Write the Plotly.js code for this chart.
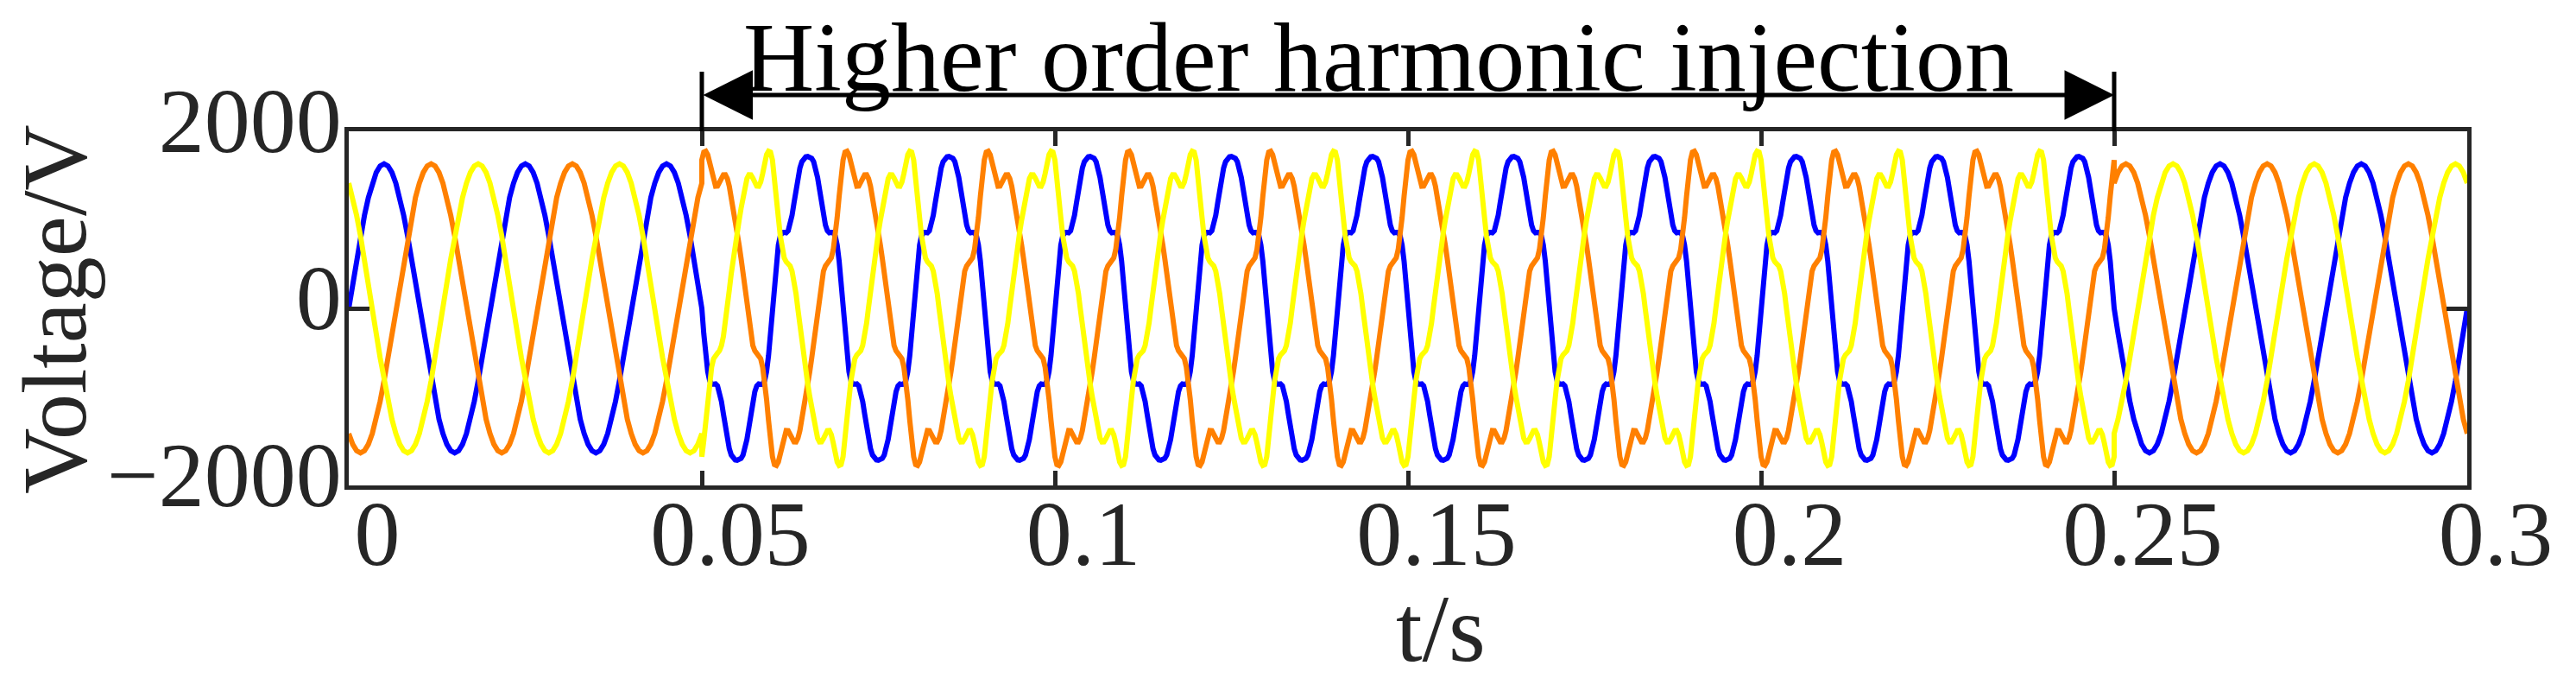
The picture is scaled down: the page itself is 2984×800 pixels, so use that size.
<!DOCTYPE html>
<html><head><meta charset="utf-8">
<script src="https://cdn.plot.ly/plotly-3.0.1.min.js"></script>
<style>html,body{margin:0;padding:0;background:#fff}#plot{width:2984px;height:800px}</style>
</head><body>
<div id="plot"></div>
<script>
// phase voltages over one 50 Hz cycle, read every 10 degrees (no injection)
const normalStep = 10;
const blueNormal = [0, 284, 559, 817, 1050, 1251, 1414, 1535, 1608, 1633, 1608, 1535, 1414, 1251, 1050, 817, 559, 284,
  0, -284, -559, -817, -1050, -1251, -1414, -1535, -1608, -1633, -1608, -1535, -1414, -1251, -1050, -817, -559, -284];
const orangeNormal = [-1414, -1535, -1608, -1633, -1608, -1535, -1414, -1251, -1050, -817, -559, -284, 0, 284, 559, 817, 1050, 1251,
  1414, 1535, 1608, 1633, 1608, 1535, 1414, 1251, 1050, 817, 559, 284, 0, -284, -559, -817, -1050, -1251];
const yellowNormal = [1414, 1251, 1050, 817, 559, 284, 0, -284, -559, -817, -1050, -1251, -1414, -1535, -1608, -1633, -1608, -1535,
  -1414, -1251, -1050, -817, -559, -284, 0, 284, 559, 817, 1050, 1251, 1414, 1535, 1608, 1633, 1608, 1535];

// same cycle while the higher order harmonics are injected, every 5 degrees
const harmStep = 5;
const blueHarm = [0, 287, 534, 714, 818, 857, 858, 854, 876, 941, 1051, 1193, 1343, 1479, 1585, 1656, 1694, 1711,
  1715, 1711, 1694, 1656, 1585, 1479, 1343, 1193, 1051, 941, 876, 854, 858, 857, 818, 714, 534, 287,
  0, -287, -534, -714, -818, -857, -857, -854, -876, -941, -1051, -1193, -1343, -1479, -1585, -1656, -1694, -1711,
  -1715, -1711, -1694, -1656, -1585, -1479, -1343, -1193, -1051, -941, -876, -854, -858, -857, -818, -714, -534, -287];
const orangeHarm = [-1676, -1765, -1775, -1735, -1636, -1520, -1427, -1379, -1381, -1420, -1472, -1508, -1509, -1465, -1379, -1262, -1130, -994,
  -857, -716, -564, -393, -207, -14, 166, 316, 420, 479, 506, 526, 570, 663, 818, 1027, 1265, 1494,
  1676, 1765, 1775, 1735, 1636, 1520, 1427, 1379, 1381, 1420, 1472, 1508, 1509, 1465, 1379, 1262, 1130, 994,
  857, 716, 564, 393, 207, 14, -166, -316, -420, -479, -506, -526, -569, -663, -818, -1027, -1265, -1494];
const yellowHarm = [1676, 1494, 1265, 1027, 818, 663, 570, 526, 506, 479, 420, 316, 166, -14, -207, -393, -564, -716,
  -857, -994, -1130, -1262, -1379, -1465, -1509, -1508, -1472, -1420, -1381, -1379, -1427, -1520, -1636, -1735, -1775, -1765,
  -1676, -1494, -1265, -1027, -818, -663, -569, -526, -506, -479, -420, -316, -166, 14, 207, 393, 564, 716,
  857, 994, 1130, 1262, 1379, 1465, 1509, 1508, 1472, 1420, 1381, 1379, 1427, 1520, 1636, 1735, 1775, 1765];

const cycle = 0.02;
const injStart = 0.05, injEnd = 0.25, tEnd = 0.3;
const xTicks = [0, 0.05, 0.1, 0.15, 0.2, 0.25, 0.3];
const xTickText = ['0', '0.05', '0.1', '0.15', '0.2', '0.25', '0.3'];
const yTicks = [-2000, 0, 2000];
const yTickText = ['\u22122000', '0', '2000'];

const serif = '"Liberation Serif", "DejaVu Serif", serif';
const axisColor = '#262626';

// repeat one sampled cycle between t0 and t1
function addSeg(xs, ys, vals, step, t0, t1) {
  const dt = cycle * step / 360;
  const n0 = Math.round(t0 / dt), n1 = Math.round(t1 / dt);
  for (let n = n0; n <= n1; n++) {
    xs.push(n * dt);
    ys.push(vals[n % vals.length]);
  }
}

function phase(normal, harm, color) {
  const xs = [], ys = [];
  addSeg(xs, ys, normal, normalStep, 0, injStart);
  addSeg(xs, ys, harm, harmStep, injStart, injEnd);
  addSeg(xs, ys, normal, normalStep, injEnd, tEnd);
  return {
    x: xs, y: ys, type: 'scatter', mode: 'lines',
    line: { color: color, width: 6 },
    hoverinfo: 'skip'
  };
}

const data = [
  phase(blueNormal, blueHarm, '#0000ff'),
  phase(orangeNormal, orangeHarm, '#ff8000'),
  phase(yellowNormal, yellowHarm, '#ffff00')
];

const L = 404, R = 126, T = 152, B = 238;
const plotW = 2984 - L - R, plotH = 800 - T - B;
const pxX = px => (px - L) / plotW;   // pixel -> paper x
const pxY = px => (800 - B - px) / plotH; // pixel -> paper y

const layout = {
  width: 2984, height: 800,
  margin: { l: L, r: R, t: T, b: B, pad: 0 },
  paper_bgcolor: '#ffffff', plot_bgcolor: '#ffffff',
  showlegend: false,
  font: { family: serif, size: 106, color: axisColor },
  xaxis: {
    range: [0, tEnd], tickvals: xTicks, ticktext: xTickText,
    ticks: 'inside', ticklen: 17, tickwidth: 5, tickcolor: axisColor,
    showline: true, linewidth: 5, linecolor: axisColor, mirror: 'ticks',
    showgrid: false, zeroline: false,
    tickfont: { family: serif, size: 106, color: axisColor },
    ticklabelshift: 33, ticklabelstandoff: -40
  },
  yaxis: {
    range: [-2000, 2000], tickvals: yTicks, ticktext: yTickText,
    ticks: 'inside', ticklen: 24, tickwidth: 5, tickcolor: axisColor,
    showline: true, linewidth: 5, linecolor: axisColor, mirror: 'ticks',
    showgrid: false, zeroline: false,
    tickfont: { family: serif, size: 106, color: axisColor },
    ticklabelshift: -13, ticklabelstandoff: -18
  },
  shapes: [
    { type: 'line', xref: 'paper', yref: 'paper', x0: injStart / tEnd, x1: injStart / tEnd, y0: 1, y1: pxY(83), line: { color: '#000', width: 5 } },
    { type: 'line', xref: 'paper', yref: 'paper', x0: injEnd / tEnd, x1: injEnd / tEnd, y0: 1, y1: pxY(83), line: { color: '#000', width: 5 } }
  ],
  annotations: [
    {
      x: injEnd, xref: 'x', y: pxY(110), yref: 'paper',
      ax: injStart, axref: 'x', ay: 0, ayref: 'pixel',
      text: '', showarrow: true, arrowside: 'end+start',
      arrowhead: 2, arrowsize: 2.3, arrowwidth: 5, arrowcolor: '#000', standoff: 0, startstandoff: 0
    },
    {
      text: 'Higher order harmonic injection', showarrow: false,
      xref: 'paper', yref: 'paper', x: pxX(1597), y: pxY(66), xanchor: 'center', yanchor: 'middle',
      font: { family: serif, size: 114, color: '#000' }
    },
    {
      text: 't/s', showarrow: false,
      xref: 'paper', yref: 'paper', x: pxX(1669), y: pxY(728), xanchor: 'center', yanchor: 'middle',
      font: { family: serif, size: 110, color: axisColor }
    },
    {
      text: 'Voltage/V', showarrow: false, textangle: -90,
      xref: 'paper', yref: 'paper', x: pxX(63), y: pxY(358), xanchor: 'center', yanchor: 'middle',
      font: { family: serif, size: 106, color: axisColor }
    }
  ]
};

Plotly.newPlot('plot', data, layout, { staticPlot: true, displayModeBar: false });
</script>
</body></html>
